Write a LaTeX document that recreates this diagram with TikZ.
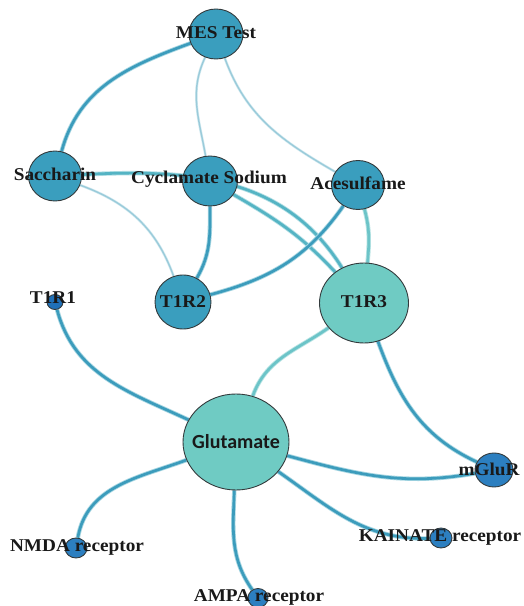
\documentclass[tikz,border=0pt]{standalone}
\usepackage{fontspec}
\setmainfont{Liberation Serif}[FakeStretch=1.07]
\newfontfamily\glufont{Carlito}
\usetikzlibrary{shapes.geometric,backgrounds}

% node fills
\definecolor{sweetfill}{HTML}{3A9EBE}
\definecolor{hubfill}{HTML}{6FCBC3}
\definecolor{recfill}{HTML}{2C7FC0}
\definecolor{t1rfill}{HTML}{2070B8}
\definecolor{rimcol}{HTML}{333A3C}
% edge colours
\definecolor{edgecore}{HTML}{3C9CBC}
\definecolor{edgehalo}{HTML}{A6D6E2}
\definecolor{midcore}{HTML}{55B4C4}
\definecolor{midhalo}{HTML}{B0DEE4}
\definecolor{lightcore}{HTML}{6CC4C8}
\definecolor{lighthalo}{HTML}{B8E4E4}
\definecolor{thincore}{HTML}{9ACBDA}
\definecolor{thinhalo}{HTML}{D4EBF1}

\begin{document}
\begin{tikzpicture}[x=1pt,y=1pt,
  vtx/.style={ellipse, draw=rimcol, line width=0.9pt, inner sep=0pt},
  lbl/.style={font=\bfseries\fontsize{18}{18}\selectfont, inner sep=0pt, text=black!90},
  heavy/.style={draw=edgecore, line width=2.7pt, preaction={draw=edgehalo, line width=4.4pt}},
  heavymid/.style={draw=midcore, line width=2.7pt, preaction={draw=midhalo, line width=4.4pt}},
  heavylight/.style={draw=lightcore, line width=2.7pt, preaction={draw=lighthalo, line width=4.4pt}},
  faint/.style={draw=thincore, line width=1.4pt, preaction={draw=thinhalo, line width=2.6pt}}]

\useasboundingbox (0,0) rectangle (523,606);

% vertices
\node[vtx, fill=sweetfill, minimum width=54pt, minimum height=50pt] (mes) at (216,572) {};
\node[vtx, fill=sweetfill, minimum width=53pt, minimum height=50pt] (sac) at (55,430) {};
\node[vtx, fill=sweetfill, minimum width=55pt, minimum height=50pt] (cyc) at (210,425) {};
\node[vtx, fill=sweetfill, minimum width=53pt, minimum height=49pt] (ace) at (358,421) {};
\node[vtx, fill=sweetfill, minimum width=56pt, minimum height=54pt] (t1r2) at (183,304) {};
\node[vtx, fill=hubfill, minimum width=89pt, minimum height=80pt] (t1r3) at (364,303) {};
\node[vtx, fill=t1rfill, minimum width=16pt, minimum height=15pt] (t1r1) at (55,304) {};
\node[vtx, fill=hubfill, minimum width=106pt, minimum height=96pt] (glu) at (236,164) {};
\node[vtx, fill=recfill, minimum width=38pt, minimum height=34pt] (mglu) at (494,136) {};
\node[vtx, fill=recfill, minimum width=22pt, minimum height=20pt] (kai) at (441,68) {};
\node[vtx, fill=recfill, minimum width=22pt, minimum height=20pt] (nmda) at (76,58) {};
\node[vtx, fill=recfill, minimum width=20pt, minimum height=19pt] (ampa) at (258,8) {};

% connections, kept behind the vertices
\begin{pgfonlayer}{background}
  \fill[white] (0,0) rectangle (523,606);
  \draw[heavy] (mes) to[out=200, in=75] (sac);
  \draw[faint] (mes) to[out=245, in=100] (cyc);
  \draw[faint] (mes) to[out=290, in=150] (ace);
  \draw[heavymid] (sac) to[out=3, in=122] (t1r3);
  \draw[heavymid] (cyc) to[out=-30, in=133] (t1r3);
  \draw[faint] (sac) to[out=-20, in=110] (t1r2);
  \draw[heavy] (cyc) to[out=270, in=60] (t1r2);
  \draw[heavy] (ace) to[out=235, in=15] (t1r2);
  \draw[heavylight] (ace) to[out=285, in=85] (t1r3);
  \draw[heavy] (t1r1) to[out=285, in=155] (glu);
  \draw[heavylight] (t1r3) to[out=215, in=70] (glu);
  \draw[heavy] (t1r3) to[out=290, in=155] (mglu);
  \draw[heavy] (glu) to[out=-15, in=190] (mglu);
  \draw[heavy] (glu) to[out=-35, in=182] (kai);
  \draw[heavy] (glu) to[out=200, in=80] (nmda);
  \draw[heavy] (glu) to[out=268, in=125] (ampa);
\end{pgfonlayer}

% labels on top
\node[lbl] (mesL) at (216,573) {MES Test};
\node[lbl] (sacL) at (55,432) {Saccharin};
\node[lbl] (cycL) at (209,427) {Cyclamate Sodium};
\node[lbl] (aceL) at (358,423) {Acesulfame};
\node[lbl] (t1r2L) at (183,304) {T1R2};
\node[lbl] (t1r3L) at (364,304) {T1R3};
\node[lbl] (t1r1L) at (53,308) {T1R1};
\node[lbl, font=\glufont\bfseries\fontsize{20}{20}\selectfont] (gluL) at (236,164) {Glutamate};
\node[lbl] (mgluL) at (489,137) {mGluR};
\node[lbl] (kaiL) at (440,69) {KAINATE receptor};
\node[lbl] (nmdaL) at (77,59) {NMDA receptor};
\node[lbl] (ampaL) at (259,9) {AMPA receptor};
\end{tikzpicture}
\end{document}
